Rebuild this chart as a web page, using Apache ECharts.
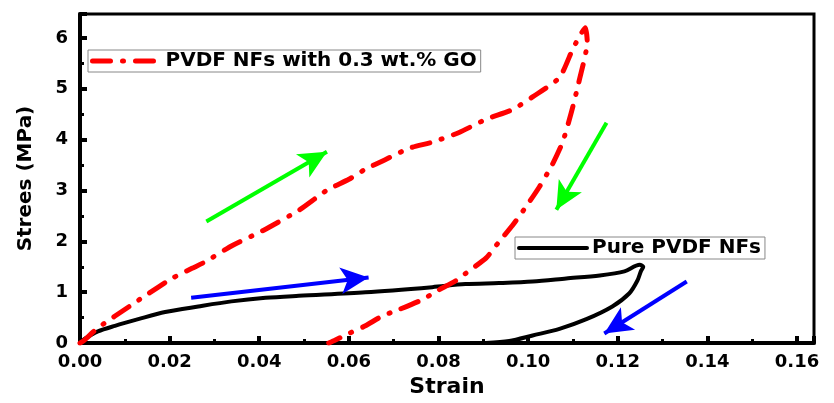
<!DOCTYPE html>
<html>
  <head>
    <meta charset="utf-8" />
    <title>Strain - Stress</title>
    <script src="https://cdn.jsdelivr.net/npm/echarts@6/dist/echarts.min.js"></script>
    <style>
      html, body { margin: 0; padding: 0; background: #fff; }
    </style>
  </head>

  <body>
    <div id="main" style="width: 834px; height: 403px;"></div>
    <script type="text/javascript">
      // 数据
      const goStrain = [0, 0.001, 0.004, 0.0115, 0.0145, 0.0205, 0.025, 0.028, 0.034, 0.041, 0.049, 0.055, 0.060, 0.0637,
        0.068, 0.0734, 0.0786, 0.0846, 0.0906, 0.0965, 0.101, 0.107, 0.110, 0.112, 0.1128,
        0.1132, 0.1114, 0.1096, 0.1077, 0.1054, 0.1025, 0.0996, 0.0965, 0.0935, 0.0906, 0.0868, 0.0839,
        0.080, 0.0763, 0.0712, 0.0674, 0.0637, 0.060, 0.057, 0.0555];
      const goStress = [0, 0.06, 0.30, 0.75, 0.93, 1.27, 1.47, 1.60, 1.92, 2.22, 2.62, 3.0, 3.22, 3.42,
        3.6, 3.83, 3.95, 4.14, 4.40, 4.59, 4.84, 5.22, 5.79, 6.11, 6.2,
        5.92, 5.16, 4.52, 3.95, 3.51, 3.07, 2.69, 2.31, 1.99, 1.67, 1.42, 1.23,
        1.04, 0.85, 0.66, 0.53, 0.34, 0.19, 0.06, 0];

      const pureStrain = [0, 0.001, 0.004, 0.0078, 0.013, 0.019, 0.0264, 0.0338, 0.0414, 0.0488, 0.0637, 0.0786,
        0.086, 0.0935, 0.101, 0.1085, 0.116, 0.1215, 0.1249, 0.1257,
        0.1252, 0.1244, 0.1226, 0.1188, 0.113, 0.107, 0.101, 0.0958, 0.0906];
      const pureStress = [0, 0.08, 0.23, 0.34, 0.47, 0.61, 0.72, 0.82, 0.89, 0.93, 1.0, 1.1,
        1.16, 1.18, 1.21, 1.27, 1.33, 1.41, 1.54, 1.5,
        1.42, 1.23, 0.98, 0.72, 0.47, 0.28, 0.15, 0.04, 0];

      // 箭头: [起点strain, 起点stress, 终点strain, 终点stress, 颜色]
      const arrows = [
        [0.0282, 2.39, 0.0551, 3.76, "#00ff00"],
        [0.1175, 4.33, 0.1063, 2.62, "#00ff00"],
        [0.0248, 0.89, 0.0644, 1.29, "#0000ff"],
        [0.1354, 1.21, 0.1170, 0.19, "#0000ff"],
      ];

      const xTicks = [0, 0.16, 0.02];
      const yTicks = [0, 6, 1];

      const goName = "PVDF NFs with 0.3 wt.% GO";
      const pureName = "Pure PVDF NFs";

      const font = "DejaVu Sans";
      const myChart = echarts.init(document.getElementById("main"));

      const legendBase = {
        itemWidth: 68,
        itemHeight: 14,
        itemGap: 4,
        padding: [1, 4, 1, 2],
        borderColor: "#888",
        borderWidth: 1,
        backgroundColor: "#fff",
        itemStyle: { color: "transparent", borderColor: "transparent", borderWidth: 0 },
        textStyle: { fontFamily: font, fontWeight: "bold", fontSize: 20, color: "#000" },
      };

      const option = {
        animation: false,
        grid: {
          left: 80,
          right: 20,
          top: 14,
          bottom: 48,
          show: true,
          borderColor: "#000",
          borderWidth: 3,
        },
        legend: [
          Object.assign({}, legendBase, {
            data: [goName],
            left: 88,
            top: 50,
            lineStyle: { width: 5, type: [18, 12, 1, 12], cap: "round" },
          }),
          Object.assign({}, legendBase, {
            data: [pureName],
            left: 515,
            top: 237,
            lineStyle: { width: 4, cap: "round" },
          }),
        ],
        xAxis: {
          type: "value",
          min: 0,
          max: 0.1638,
          interval: xTicks[2],
          name: "Strain",
          nameLocation: "middle",
          nameGap: 32,
          nameTextStyle: { fontFamily: font, fontWeight: "bold", fontSize: 22, color: "#000" },
          axisLine: { show: true, lineStyle: { color: "#000", width: 4 } },
          axisTick: { inside: true, length: 7, lineStyle: { color: "#000", width: 4 } },
          minorTick: { show: true, splitNumber: 2, length: 4, lineStyle: { color: "#000", width: 3 } },
          splitLine: { show: false },
          axisLabel: {
            showMaxLabel: false,
            margin: 10,
            fontFamily: font,
            fontWeight: "bold",
            fontSize: 18,
            color: "#000",
            formatter: v => v.toFixed(2),
          },
        },
        yAxis: {
          type: "value",
          min: 0,
          max: 6.47,
          interval: yTicks[2],
          name: "Strees (MPa)",
          nameLocation: "middle",
          nameRotate: 90,
          nameGap: 44,
          nameTextStyle: { fontFamily: font, fontWeight: "bold", fontSize: 20, color: "#000" },
          axisLine: { show: true, lineStyle: { color: "#000", width: 4 } },
          axisTick: { inside: true, length: 7, lineStyle: { color: "#000", width: 4 } },
          minorTick: { show: true, splitNumber: 2, length: 4, lineStyle: { color: "#000", width: 3 } },
          splitLine: { show: false },
          axisLabel: {
            showMaxLabel: false,
            margin: 12,
            fontFamily: font,
            fontWeight: "bold",
            fontSize: 18,
            color: "#000",
          },
        },
        series: [
          {
            name: pureName,
            type: "line",
            smooth: 0.3,
            symbol: "none",
            itemStyle: { color: "#000" },
            lineStyle: { color: "#000", width: 4, cap: "round", join: "round" },
            data: pureStrain.map((x, i) => [x, pureStress[i]]),
            z: 3,
          },
          {
            name: goName,
            type: "line",
            smooth: 0.2,
            symbol: "none",
            itemStyle: { color: "#ff0000" },
            lineStyle: {
              color: "#ff0000",
              width: 5,
              type: [18, 12, 1, 12],
              cap: "round",
              join: "round",
            },
            data: goStrain.map((x, i) => [x, goStress[i]]),
            z: 4,
          },
          {
            name: "arrows",
            type: "line",
            data: [],
            markLine: {
              silent: true,
              animation: false,
              symbol: ["none", "arrow"],
              symbolSize: [20, 28],
              label: { show: false },
              emphasis: { disabled: true },
              data: arrows.map(a => [
                { coord: [a[0], a[1]], lineStyle: { color: a[4], width: 4, type: "solid" }, itemStyle: { color: a[4] } },
                { coord: [a[2], a[3]] },
              ]),
            },
            z: 5,
          },
        ],
      };

      myChart.setOption(option);
    </script>
  </body>
</html>
